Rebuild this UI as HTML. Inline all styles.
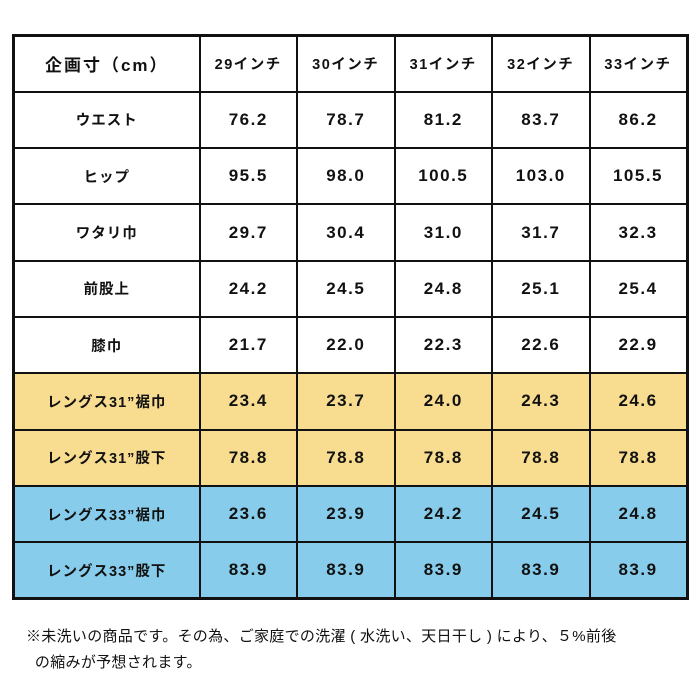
<!DOCTYPE html>
<html><head><meta charset="utf-8"><style>
body{margin:0;width:700px;height:700px;background:#fff;position:relative;font-family:"Liberation Sans","Noto Sans CJK JP",sans-serif;color:#111}
table{position:absolute;left:12px;top:34px;border-collapse:collapse;border:3px solid #111;table-layout:fixed}
td{border:2px solid #111;height:56.3px;padding:0;text-align:center;font-size:17px;font-weight:bold;letter-spacing:1.5px;box-sizing:border-box}
td.h{width:186px;font-size:14.5px;letter-spacing:1px}
td.v{width:97.5px}
tr.y td{background:#f8dc90}
tr.b td{background:#87cdeb}
.first td.h{font-size:17px;letter-spacing:2px}
.first td.v{font-size:14.5px}
.note{position:absolute;left:26px;top:624px;font-size:15px;line-height:26px;letter-spacing:0.3px}
</style></head><body>
<table>
<tr class="first"><td class="h">企画寸（cm）</td><td class="v">29インチ</td><td class="v">30インチ</td><td class="v">31インチ</td><td class="v">32インチ</td><td class="v">33インチ</td></tr>
<tr><td class="h">ウエスト</td><td>76.2</td><td>78.7</td><td>81.2</td><td>83.7</td><td>86.2</td></tr>
<tr><td class="h">ヒップ</td><td>95.5</td><td>98.0</td><td>100.5</td><td>103.0</td><td>105.5</td></tr>
<tr><td class="h">ワタリ巾</td><td>29.7</td><td>30.4</td><td>31.0</td><td>31.7</td><td>32.3</td></tr>
<tr><td class="h">前股上</td><td>24.2</td><td>24.5</td><td>24.8</td><td>25.1</td><td>25.4</td></tr>
<tr><td class="h">膝巾</td><td>21.7</td><td>22.0</td><td>22.3</td><td>22.6</td><td>22.9</td></tr>
<tr class="y"><td class="h">レングス31”裾巾</td><td>23.4</td><td>23.7</td><td>24.0</td><td>24.3</td><td>24.6</td></tr>
<tr class="y"><td class="h">レングス31”股下</td><td>78.8</td><td>78.8</td><td>78.8</td><td>78.8</td><td>78.8</td></tr>
<tr class="b"><td class="h">レングス33”裾巾</td><td>23.6</td><td>23.9</td><td>24.2</td><td>24.5</td><td>24.8</td></tr>
<tr class="b"><td class="h">レングス33”股下</td><td>83.9</td><td>83.9</td><td>83.9</td><td>83.9</td><td>83.9</td></tr>
</table>
<div class="note">※未洗いの商品です。その為、ご家庭での洗濯 ( 水洗い、天日干し ) により、５%前後<br>&nbsp;&nbsp;の縮みが予想されます。</div>
</body></html>
